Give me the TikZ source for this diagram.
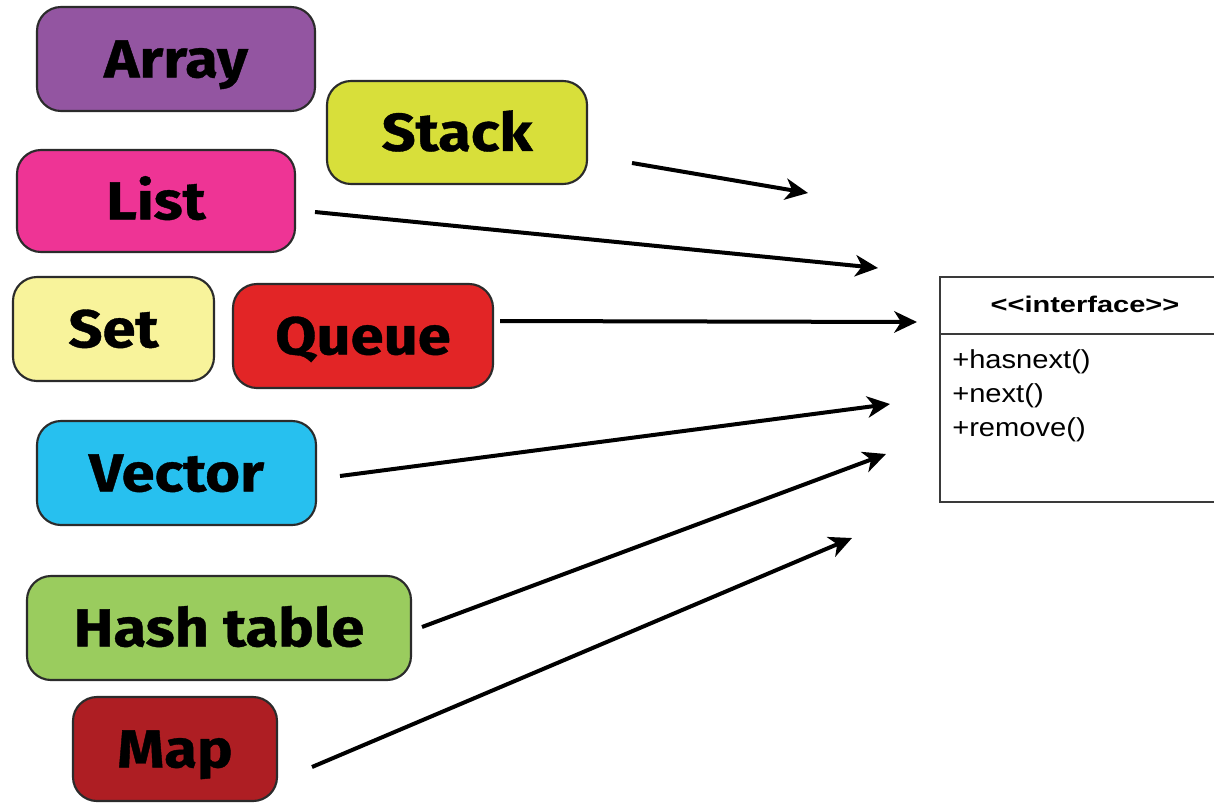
\documentclass[tikz,border=0pt]{standalone}
\usepackage{fontspec}
\setmainfont{Fira Sans}
\newfontfamily\heavyfont{Fira Sans}[UprightFont=* Bold, BoldFont=* Bold, UprightFeatures={FakeBold=0.7}]
\newfontfamily\umlfont{Liberation Sans}
\usepackage{graphicx}
\usetikzlibrary{arrows.meta}

\definecolor{arrayc}{HTML}{9355A1}
\definecolor{stackc}{HTML}{D8DF3A}
\definecolor{listc}{HTML}{EE3495}
\definecolor{setc}{HTML}{F8F39B}
\definecolor{queuec}{HTML}{E22526}
\definecolor{vectorc}{HTML}{27C0EF}
\definecolor{hashc}{HTML}{9ACC5E}
\definecolor{mapc}{HTML}{AE1E23}
\definecolor{edgec}{HTML}{2B2B2B}
\definecolor{umlline}{HTML}{3A3A3A}

% horizontally widened label text
\newcommand{\widetext}[1]{\scalebox{1.12}[1]{#1}}

\begin{document}
\begin{tikzpicture}[x=0.75pt,y=-0.75pt,
  collbox/.style n args={3}{draw=edgec, line width=1.6pt, rounded corners=18pt,
    fill=#1, minimum width=#2*0.75pt, minimum height=#3*0.75pt, inner sep=0pt,
    font=\heavyfont\fontsize{40}{44}\selectfont, text height=27.5pt, text depth=0pt},
  link/.style={line width=3pt, -{Stealth[length=17pt,width=16pt,inset=5pt]}},
  umlframe/.style={draw=umlline, line width=1.5pt},
]
\useasboundingbox (0,0) rectangle (1214,803);

% collection boxes
\node[collbox={arrayc}{278}{104}]  (array)  at (176,59)    {\widetext{Array}};
\node[collbox={stackc}{260}{103}]  (stack)  at (457,132.5) {\widetext{Stack}};
\node[collbox={listc}{278}{102}]   (list)   at (156,201)   {\widetext{List}};
\node[collbox={setc}{201}{104}]    (set)    at (113.5,329) {\widetext{Set}};
\node[collbox={queuec}{260}{104}]  (queue)  at (363,336)   {\widetext{Queue}};
\node[collbox={vectorc}{279}{104}] (vector) at (176.5,473) {\widetext{Vector}};
\node[collbox={hashc}{384}{104}]   (hash)   at (219,628)   {\widetext{Hash table}};
\node[collbox={mapc}{204}{104}]    (map)    at (175,749)   {\widetext{Map}};

% interface class, open towards the right edge
\draw[umlframe] (1214,277) -| (940,502) -- (1214,502);
\draw[umlframe] (940,334) -- (1214,334);
\node[font=\umlfont\bfseries\fontsize{17}{20}\selectfont, inner sep=0pt] (iface) at (1085,304)
  {\scalebox{1.28}[1]{<{}<interface>{}>}};
\node[font=\umlfont\fontsize{19.5}{25.5}\selectfont, align=left, anchor=north west, inner sep=0pt] (ops) at (952,349)
  {\scalebox{1.12}[1]{+hasnext()}\\ \scalebox{1.12}[1]{+next()}\\ \scalebox{1.12}[1]{+remove()}};

% arrow ends
\coordinate (stack-out)  at (632,163);  \coordinate (stack-in)  at (808,193);
\coordinate (list-out)   at (315,212);  \coordinate (list-in)   at (878,268);
\coordinate (queue-out)  at (500,321);  \coordinate (queue-in)  at (917,322);
\coordinate (vector-out) at (340,476);  \coordinate (vector-in) at (890,404);
\coordinate (hash-out)   at (422,627);  \coordinate (hash-in)   at (886,454);
\coordinate (map-out)    at (312,767);  \coordinate (map-in)    at (852,538);

\draw[link] (stack-out)  -- (stack-in);
\draw[link] (list-out)   -- (list-in);
\draw[link] (queue-out)  -- (queue-in);
\draw[link] (vector-out) -- (vector-in);
\draw[link] (hash-out)   -- (hash-in);
\draw[link] (map-out)    -- (map-in);
\end{tikzpicture}
\end{document}
